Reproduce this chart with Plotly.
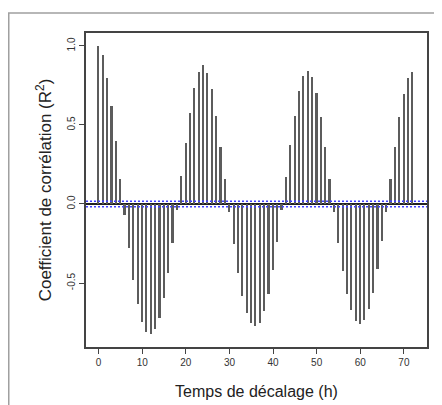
import plotly.graph_objects as go

# lags (h) and autocorrelation coefficients
lags = list(range(0, 73))
acf = [
    1.00, 0.94, 0.80, 0.62, 0.40, 0.16, -0.07, -0.28, -0.48, -0.635,
    -0.747, -0.808, -0.823, -0.793, -0.72, -0.593, -0.439, -0.249, -0.04, 0.177,
    0.384, 0.578, 0.732, 0.835, 0.878, 0.829, 0.726, 0.557, 0.363, 0.16,
    -0.053, -0.255, -0.435, -0.58, -0.69, -0.755, -0.772, -0.751, -0.677, -0.57,
    -0.418, -0.24, -0.038, 0.169, 0.371, 0.559, 0.717, 0.812, 0.844, 0.806,
    0.705, 0.553, 0.363, 0.16, -0.049, -0.249, -0.422, -0.57, -0.671, -0.74,
    -0.76, -0.734, -0.667, -0.561, -0.414, -0.234, -0.049, 0.158, 0.363, 0.553,
    0.694, 0.80, 0.835,
]
ci = 0.018  # confidence bound (blue dashed lines)

x_ticks = [0, 10, 20, 30, 40, 50, 60, 70]
y_ticks = [-0.5, 0.0, 0.5, 1.0]
y_ticklabels = ["-0.5", "0.0", "0.5", "1.0"]

fig = go.Figure()
fig.add_trace(go.Bar(
    x=lags,
    y=acf,
    width=0.38,
    marker=dict(color="#5c5c5c", line_width=0),
    showlegend=False,
))

for c in (ci, -ci):
    fig.add_hline(y=c, line_width=1.5, line_dash="2px,2px", line_color="#4040ff")

# outer frame of the figure (gray border, top and left visible)
fig.add_shape(
    type="rect", xref="paper", yref="paper",
    x0=-0.2265, x1=1.2, y0=-0.4, y1=1.0637,
    line=dict(color="#a0a0a0", width=1.5),
    layer="below",
)

# the page adds an 8px body margin, so the figure is 8px smaller than the window
fig.update_layout(
    width=434,
    height=397,
    margin=dict(l=78, r=15, t=25, b=58),
    plot_bgcolor="white",
    paper_bgcolor="white",
    font=dict(family="Liberation Sans, Arial, sans-serif", color="#222"),
    bargap=0,
    xaxis=dict(
        range=[-2.9, 75.3],
        tickvals=x_ticks,
        ticks="outside", ticklen=5, tickwidth=1, tickcolor="#444",
        tickfont=dict(size=10, color="#333"),
        showgrid=False, zeroline=False, automargin=False,
        showline=True, mirror=True, linecolor="#444", linewidth=1.5,
        title=dict(text="Temps de décalage (h)", font=dict(size=16), standoff=19),
    ),
    yaxis=dict(
        range=[-0.905, 1.082],
        tickvals=y_ticks,
        ticktext=y_ticklabels,
        tickangle=-90,
        ticks="outside", ticklen=5, tickwidth=1, tickcolor="#444",
        tickfont=dict(size=10, color="#333"),
        showgrid=False, automargin=False,
        zeroline=True, zerolinecolor="#222", zerolinewidth=1.5,
        showline=True, mirror=True, linecolor="#444", linewidth=1.5,
        title=dict(text="Coefficient de corrélation (R<sup>2</sup>)", font=dict(size=17), standoff=10),
    ),
)

fig.write_html("out.html")
